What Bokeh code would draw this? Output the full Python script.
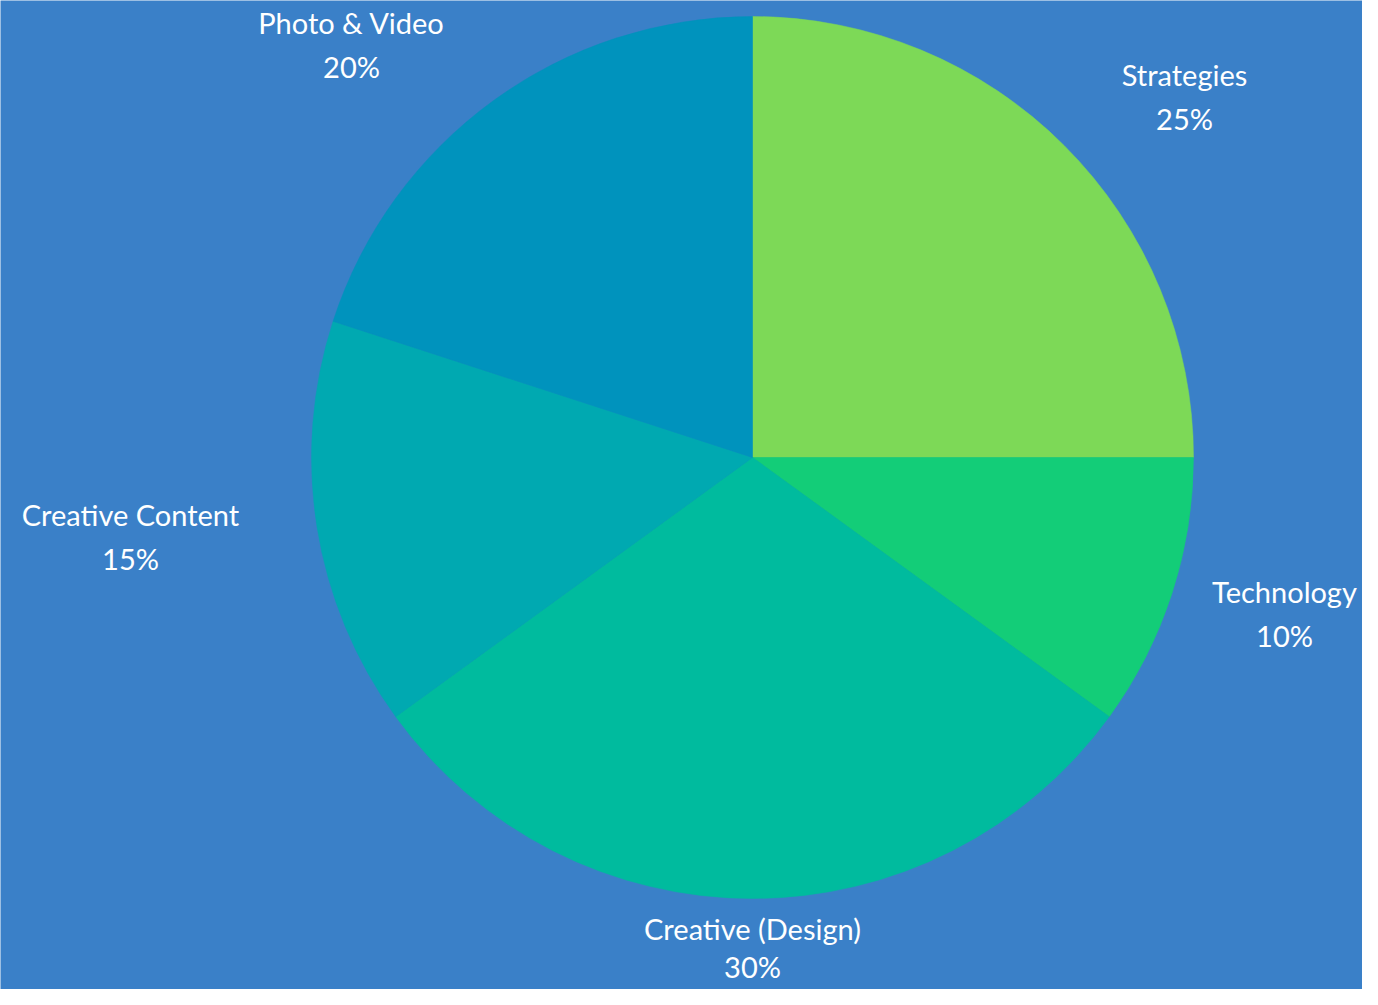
import math
from bokeh.plotting import figure
from bokeh.models import ColumnDataSource, Range1d
from bokeh.core.properties import value
from bokeh.embed import file_html
from bokeh.resources import INLINE

categories = ["Strategies", "Technology", "Creative (Design)", "Creative Content", "Photo & Video"]
shares = [25, 10, 30, 15, 20]
colors = ["#7dd957", "#13cd78", "#00bb9e", "#00a9b1", "#0093bd"]
# label anchor positions (screen px from top-left of figure)
label_x = [1184, 1284, 752, 130, 351]
label_y = [74, 591, 928, 514, 22]

W, H = 1362, 989
BG = "#3a80c8"
cx, cy, R = 752, H - 457, 441

p = figure(width=W, height=H, output_backend="svg", toolbar_location=None,
           x_range=Range1d(0, W), y_range=Range1d(0, H), min_border=0,
           background_fill_color=BG, border_fill_color=BG, outline_line_color=None)
p.axis.visible = False
p.grid.visible = False

total = sum(shares)
starts, ends = [], []
cum = 0
for s in shares:
    starts.append(math.pi / 2 - 2 * math.pi * cum / total)
    cum += s
    ends.append(math.pi / 2 - 2 * math.pi * cum / total)

src = ColumnDataSource(dict(start=starts, end=ends, color=colors, cat=categories))
p.wedge(x=cx, y=cy, radius=R, start_angle="start", end_angle="end", direction="clock",
        fill_color="color", line_color="color", line_width=0.5, source=src)

gaps = [44, 44, 38, 44, 44]
lsrc = ColumnDataSource(dict(
    x=label_x, y1=[H - y for y in label_y], y2=[H - y - g for y, g in zip(label_y, gaps)],
    name=categories, pct=[f"{s}%" for s in shares]))
for col, ycol in (("name", "y1"), ("pct", "y2")):
    p.text(x="x", y=ycol, text=col, source=lsrc, text_align="center", text_baseline="middle",
           text_color="white", text_font=value("Lato"), text_font_size="29px")

open("out.html", "w").write(file_html(p, INLINE))
